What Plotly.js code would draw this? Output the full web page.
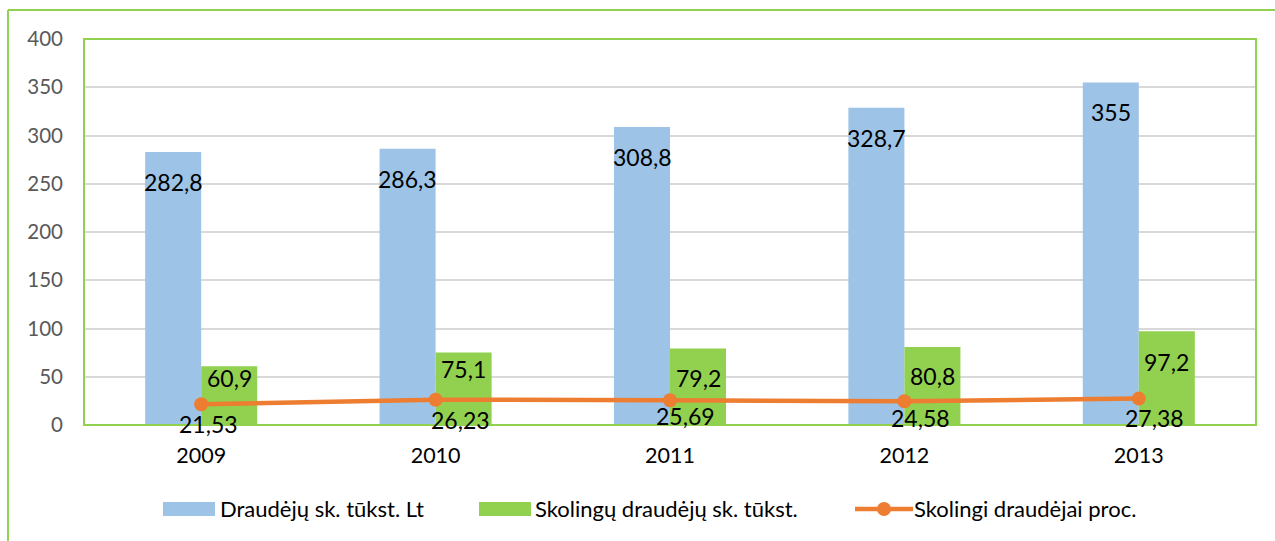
<!DOCTYPE html>
<html>
<head>
<meta charset="utf-8">
<script src="https://cdn.plot.ly/plotly-3.0.1.min.js"></script>
<style>html,body{margin:0;padding:0;background:#fff;}#chart{width:1275px;height:541px;}</style>
</head>
<body>
<div id="chart"></div>
<script>
// ---- data ----
const years = ["2009", "2010", "2011", "2012", "2013"];
const seriesNames = ["Draudėjų sk. tūkst. Lt", "Skolingų draudėjų sk. tūkst.", "Skolingi draudėjai proc."];
const insured = [282.8, 286.3, 308.8, 328.7, 355];
const debtors = [60.9, 75.1, 79.2, 80.8, 97.2];
const debtorsPct = [21.53, 26.23, 25.69, 24.58, 27.38];
const yTicks = [0, 50, 100, 150, 200, 250, 300, 350, 400];

// ---- style ----
const BLUE = "#9DC3E6", GREEN = "#92D050", ORANGE = "#ED7D31";
const FONT = "Lato, 'Liberation Sans', Arial, sans-serif";
const W = 1275, H = 541;
const M = {l: 84, r: 19, t: 39, b: 116};
const PW = W - M.l - M.r, PH = H - M.t - M.b;
const px = x => (x - M.l) / PW;
const py = y => (H - M.b - y) / PH;

// label offsets (pixels) – styling only
const greenShift = [-12, -16, -29, -29, -31];
const pctXShift = [7, 25, 15, 16, 16];
const pctYShift = [-20, -20, -16, -17, -19];

const fmt = v => String(v).replace(".", ",");

const traces = [
  {type: "bar", name: seriesNames[0], x: years, y: insured, marker: {color: BLUE}, hoverinfo: "skip"},
  {type: "bar", name: seriesNames[1], x: years, y: debtors, marker: {color: GREEN}, hoverinfo: "skip"},
  {type: "scatter", mode: "lines+markers", name: seriesNames[2], x: years, y: debtorsPct,
   line: {color: ORANGE, width: 4.5}, marker: {color: ORANGE, size: 14}, hoverinfo: "skip"}
];

const annotations = [];
years.forEach((yr, i) => {
  // category index i is the position of category years[i]
  annotations.push({x: i, y: insured[i], xref: "x", yref: "y", text: fmt(insured[i]), showarrow: false,
    xshift: -28, yshift: -30, yanchor: "middle", font: {family: FONT, size: 23, color: "#000"}});
  annotations.push({x: i, y: debtors[i], xref: "x", yref: "y", text: fmt(debtors[i]), showarrow: false,
    xshift: 28, yshift: greenShift[i], yanchor: "middle", font: {family: FONT, size: 23, color: "#000"}});
  annotations.push({x: i, y: debtorsPct[i], xref: "x", yref: "y", text: fmt(debtorsPct[i]), showarrow: false,
    xshift: pctXShift[i], yshift: pctYShift[i], yanchor: "middle", font: {family: FONT, size: 23, color: "#000"}});
});

// manual legend
const legY = 509;
const legItems = [
  {kind: "bar", color: BLUE, x0: 163, x1: 215, tx: 218, name: seriesNames[0]},
  {kind: "bar", color: GREEN, x0: 479, x1: 531, tx: 533, name: seriesNames[1]},
  {kind: "line", color: ORANGE, x0: 855, x1: 913, tx: 912, name: seriesNames[2]}
];
const shapes = [
  // outer chart border (left + top)
  {type: "line", xref: "paper", yref: "paper", x0: px(8), x1: px(8), y0: py(10), y1: py(560), line: {color: GREEN, width: 2}},
  {type: "line", xref: "paper", yref: "paper", x0: px(8), x1: px(1290), y0: py(10), y1: py(10), line: {color: GREEN, width: 2}},
  // plot area border
  {type: "rect", xref: "paper", yref: "paper", x0: 0, x1: 1, y0: 0, y1: 1, line: {color: GREEN, width: 2}, layer: "above"}
];
legItems.forEach(it => {
  if (it.kind === "bar") {
    shapes.push({type: "rect", xref: "paper", yref: "paper", x0: px(it.x0), x1: px(it.x1), y0: py(legY + 7), y1: py(legY - 7),
      fillcolor: it.color, line: {width: 0}});
  } else {
    shapes.push({type: "line", xref: "paper", yref: "paper", x0: px(it.x0), x1: px(it.x1), y0: py(legY), y1: py(legY),
      line: {color: it.color, width: 4.5}});
    const cx = (it.x0 + it.x1) / 2;
    shapes.push({type: "circle", xref: "paper", yref: "paper", x0: px(cx - 7), x1: px(cx + 7), y0: py(legY + 7), y1: py(legY - 7),
      fillcolor: it.color, line: {width: 0}});
  }
  annotations.push({xref: "paper", yref: "paper", x: px(it.tx), y: py(legY), xanchor: "left", yanchor: "middle",
    text: it.name, showarrow: false, font: {family: FONT, size: 22, color: "#000"}});
});

const layout = {
  width: W, height: H,
  margin: M,
  paper_bgcolor: "#fff", plot_bgcolor: "#fff",
  barmode: "group", bargap: 0.522, bargroupgap: 0,
  showlegend: false,
  font: {family: FONT},
  xaxis: {type: "category", range: [-0.5, years.length - 0.5], showgrid: false, showline: false, zeroline: false, ticks: "",
    ticklabelstandoff: 15, tickfont: {family: FONT, size: 21.5, color: "#000"}, fixedrange: true},
  yaxis: {range: [0, 400], tickvals: yTicks, ticktext: yTicks.map(String), showgrid: true, gridcolor: "#d9d9d9", gridwidth: 2,
    zeroline: false, showline: false, ticks: "", ticklabelstandoff: 20,
    tickfont: {family: FONT, size: 20.5, color: "#595959"}, fixedrange: true},
  shapes: shapes,
  annotations: annotations
};

Plotly.newPlot("chart", traces, layout, {staticPlot: true, displayModeBar: false});
</script>
</body>
</html>
